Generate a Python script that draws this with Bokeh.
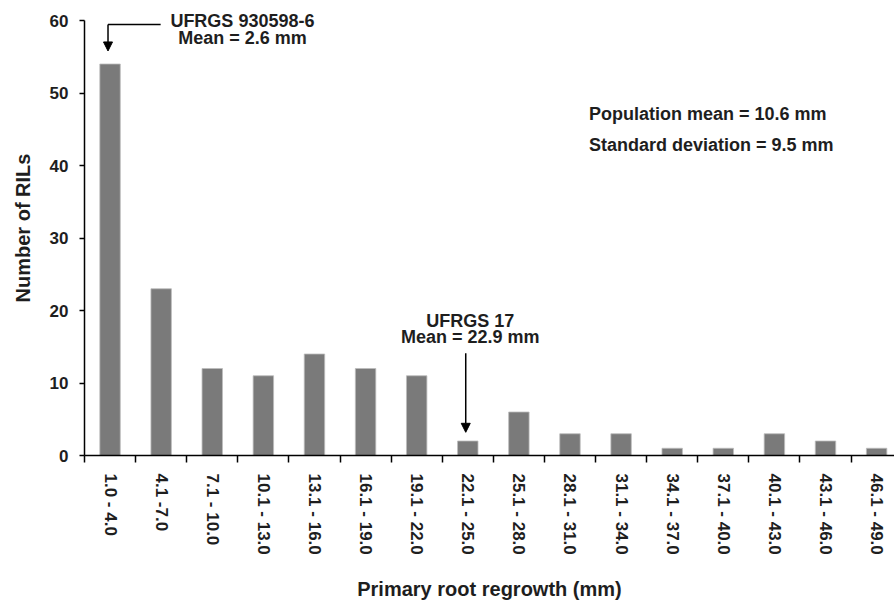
import math
from bokeh.plotting import figure
from bokeh.models import (Range1d, FixedTicker, Label, Arrow, NormalHead,
                          ColumnDataSource)
from bokeh.embed import file_html
from bokeh.resources import INLINE

# ---- data ----
categories = ["1.0 - 4.0", "4.1 -7.0", "7.1 - 10.0", "10.1 - 13.0", "13.1 - 16.0",
              "16.1 - 19.0", "19.1 - 22.0", "22.1 - 25.0", "25.1 - 28.0", "28.1 - 31.0",
              "31.1 - 34.0", "34.1 - 37.0", "37.1 - 40.0", "40.1 - 43.0", "43.1 - 46.0",
              "46.1 - 49.0"]
counts = [54, 23, 12, 11, 14, 12, 11, 2, 6, 3, 3, 1, 1, 3, 2, 1]
y_ticks = [0, 10, 20, 30, 40, 50, 60]

FONT = "Liberation Sans"
TXT = "#1e1e1e"
centers = [i + 0.5 for i in range(len(categories))]
bounds = list(range(len(categories) + 1))

src = ColumnDataSource(dict(x=centers, top=counts))

p = figure(width=894, height=603, output_backend="svg", toolbar_location=None,
           x_range=Range1d(0, 15.85), y_range=Range1d(0, 62.76),
           min_border_left=84, min_border_right=0, min_border_top=0,
           min_border_bottom=148)
p.background_fill_color = "white"
p.outline_line_color = None
p.xgrid.visible = False
p.ygrid.visible = False

p.vbar(x="x", top="top", width=0.4, source=src, fill_color="#7a7a7a",
       line_color="#bdbdbd", line_width=0.8)

# x axis
xa = p.xaxis[0]
xa.ticker = FixedTicker(ticks=centers, minor_ticks=bounds)
xa.major_label_overrides = {c: lab for c, lab in zip(centers, categories)}
xa.major_tick_line_color = None
xa.minor_tick_line_color = "black"
xa.minor_tick_line_width = 1.5
xa.minor_tick_out = 7
xa.minor_tick_in = 0
xa.major_label_orientation = -math.pi / 2
xa.major_label_standoff = 11
xa.major_label_text_font = FONT
xa.major_label_text_font_style = "bold"
xa.major_label_text_font_size = "17px"
xa.major_label_text_color = TXT
xa.axis_line_color = "black"
xa.axis_line_width = 1.5
xa.axis_label = "Primary root regrowth (mm)"
xa.axis_label_text_font = FONT
xa.axis_label_text_font_style = "bold"
xa.axis_label_text_font_size = "20px"
xa.axis_label_text_color = TXT
xa.axis_label_standoff = 20

# y axis
ya = p.yaxis[0]
ya.ticker = FixedTicker(ticks=y_ticks)
ya.bounds = (0, 60)
ya.minor_tick_line_color = None
ya.major_tick_out = 5
ya.major_tick_in = 0
ya.major_tick_line_width = 1.5
ya.axis_line_width = 1.5
ya.major_label_standoff = 11
ya.major_label_text_font = FONT
ya.major_label_text_font_style = "bold"
ya.major_label_text_font_size = "17px"
ya.major_label_text_color = TXT
ya.axis_label = "Number of RILs"
ya.axis_label_text_font = FONT
ya.axis_label_text_font_style = "bold"
ya.axis_label_text_font_size = "20px"
ya.axis_label_text_color = TXT
ya.axis_label_standoff = 13

def add_label(x, y, text, align="center", size="18px"):
    p.add_layout(Label(x=x, y=y, text=text, text_font=FONT, text_font_style="bold",
                       text_font_size=size, text_color=TXT,
                       text_align=align, text_baseline="middle"))

# annotation 1
add_label(3.09, 59.9, "UFRGS 930598-6")
add_label(3.09, 57.6, "Mean = 2.6 mm")
p.line(x=[0.46, 1.49], y=[59.45, 59.45], line_color="black", line_width=1.5)
p.add_layout(Arrow(end=NormalHead(size=9, fill_color="black", line_color="black"),
                   x_start=0.46, y_start=59.45, x_end=0.46, y_end=55.8,
                   line_color="black", line_width=1.5))

# annotation 2
add_label(7.55, 18.6, "UFRGS 17")
add_label(7.55, 16.3, "Mean = 22.9 mm")
p.add_layout(Arrow(end=NormalHead(size=9, fill_color="black", line_color="black"),
                   x_start=7.46, y_start=14.1, x_end=7.46, y_end=3.2,
                   line_color="black", line_width=1.5))

# stats
add_label(9.87, 47.1, "Population mean = 10.6 mm", align="left")
add_label(9.87, 42.76, "Standard deviation = 9.5 mm", align="left")

open("out.html", "w").write(file_html(p, INLINE))
